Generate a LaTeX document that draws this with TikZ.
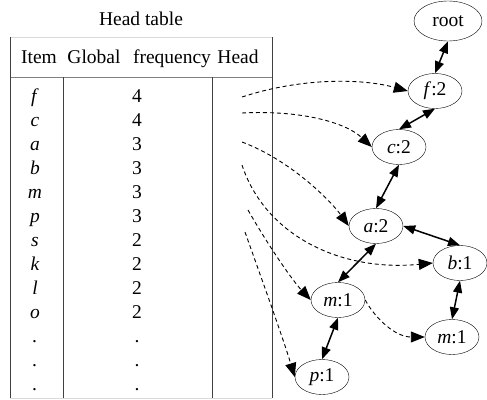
\documentclass[tikz,border=0pt]{standalone}
\usepackage{fontspec}
\setmainfont{Liberation Serif}
\newfontfamily\timesfont{Liberation Serif}
\usetikzlibrary{arrows.meta,shapes.geometric}

\begin{document}
\begin{tikzpicture}[x=1pt,y=-1pt,
  font=\timesfont\fontsize{19.5}{22}\selectfont,
  txt/.style={anchor=base,inner sep=0pt},
  fpnode/.style={draw,ellipse,inner sep=1pt,minimum width=54pt,minimum height=35pt},
  link/.style={line width=1.5pt,{Triangle[length=12pt,width=9pt]}-{Triangle[length=12pt,width=9pt]}},
  headlink/.style={line width=0.9pt,dash pattern=on 4pt off 3pt,-{Triangle[length=14pt,width=11pt]}}]
\useasboundingbox (0,0) rectangle (487,399);
% head table
\node[txt] (title) at (141,25) {Head table};
\draw[black!15] (10,37) -- (272,37);
\draw[black!15] (10,398) -- (272,398);
\draw[gray] (10,77) -- (272,77);
\draw[black!75] (10,37) -- (10,398);
\draw[black!75] (272,37) -- (272,398);
\draw[black!75] (63,77) -- (63,398);
\draw[black!75] (212,77) -- (212,398);
\node[txt] (hitem) at (39,63) {Item};
\node[txt] (hglobal) at (94,63) {Global};
\node[txt] (hfreq) at (172,63) {frequency};
\node[txt] (hhead) at (238,63) {Head};
\foreach \itm/\frq [count=\i from 0] in {f/4,c/4,a/3,b/3,m/3,p/3,s/2,k/2,l/2,o/2,./.,./.,./.}{
  \node[txt] (item\i) at (35,102+24*\i) {\textit{\itm}};
  \node[txt] (freq\i) at (137,102+24*\i) {\frq};
}
% fp-tree
\node[fpnode,minimum width=68pt,minimum height=40pt] (root) at (448,21) {root};
\node[fpnode] (f) at (435,91) {\textit{f}:2};
\node[fpnode] (c) at (399,147) {\textit{c}:2};
\node[fpnode] (a) at (376,226) {\textit{a}:2};
\node[fpnode] (b) at (460,263) {\textit{b}:1};
\node[fpnode] (m1) at (338,300) {\textit{m}:1};
\node[fpnode] (m2) at (452,337) {\textit{m}:1};
\node[fpnode] (p) at (322,377) {\textit{p}:1};
\draw[link] (root.south) -- (f.north);
\draw[link] (f.south) -- (c.north);
\draw[link] (c.south) -- (a.north);
\draw[link] (a.east) -- (b.north);
\draw[link] (a.south) -- (m1.north);
\draw[link] (b.south) -- (m2.north);
\draw[link] (m1.south) -- (p.north);
% node links from the table
\coordinate (hf) at (242,97);
\coordinate (hc) at (242,113);
\coordinate (ha) at (242,142);
\coordinate (hb) at (242,165);
\coordinate (hm) at (248,210);
\coordinate (hp) at (245,232);
\draw[headlink] (hf) .. controls (300,78) and (360,78) .. (f.west);
\draw[headlink] (hc) .. controls (300,110) and (345,122) .. (c.west);
\draw[headlink] (ha) .. controls (290,160) and (330,200) .. (a.west);
\draw[headlink] (hb) .. controls (265,235) and (340,272) .. (b.west);
\draw[headlink] (hm) .. controls (268,245) and (292,280) .. (m1.west);
\draw[headlink] (hp) .. controls (262,280) and (282,335) .. (p.west);
\draw[headlink] (m1.east) .. controls (375,318) and (395,337) .. (m2.west);
\end{tikzpicture}
\end{document}
